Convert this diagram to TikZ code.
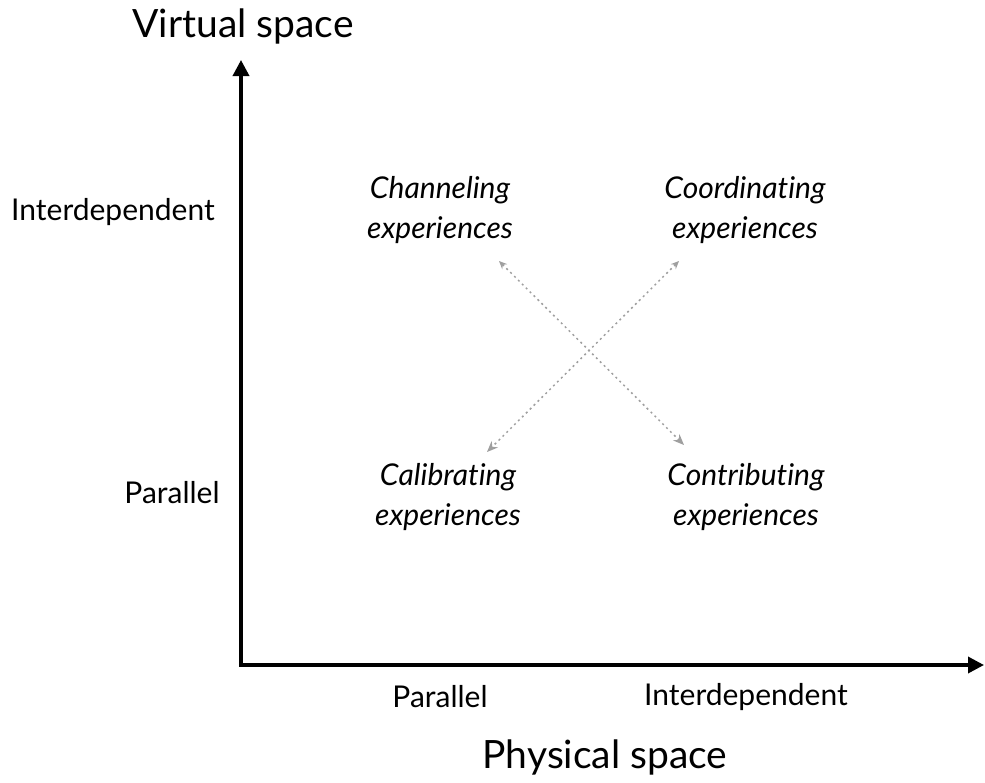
\documentclass[tikz,border=0pt]{standalone}
\usepackage{fontspec}
\setmainfont[Ligatures={NoCommon,NoContextual}]{Lato}
\usetikzlibrary{arrows.meta}
\begin{document}
\begin{tikzpicture}[x=1pt,y=-1pt,
  axis/.style={line width=3.5pt,-{Triangle[length=16pt,width=16pt]}},
  link/.style={gray!75,line width=1.5pt,dash pattern=on 2pt off 3.5pt,{Stealth[length=8pt,width=7pt]}-{Stealth[length=11pt,width=9pt]}},
  title/.style={font=\fontsize{39}{44}\selectfont},
  level/.style={font=\fontsize{30}{36}\selectfont},
  quad/.style={font=\fontsize{30}{40}\selectfont\itshape,align=center}]
\useasboundingbox (0,0) rectangle (985,782);
% axes
\coordinate (o) at (241,665);
\coordinate (ytop) at (241,60);
\coordinate (xend) at (984,665);
\draw[axis] (o) -- (ytop);
\draw[axis] ([xshift=-1.75pt]o) -- (xend);
% axis titles
\node[title] (vs) at (243,26) {Virtual space};
\node[title] (ps) at (605,757) {Physical space};
% levels
\node[level] (yi) at (113,212) {Interdependent};
\node[level] (yp) at (172,493) {Parallel};
\node[level] (xp) at (440,697) {Parallel};
\node[level] (xi) at (746,697) {Interdependent};
% quadrants
\node[quad] (ch) at (440,210) {Channeling\\experiences};
\node[quad] (co) at (745,210) {Coordinating\\experiences};
\node[quad] (ca) at (448,497) {Calibrating\\experiences};
\node[quad] (ct) at (746,497) {Contributing\\experiences};
% diagonal links
\coordinate (a1) at (499,261);
\coordinate (a2) at (684,445);
\coordinate (b1) at (679,261);
\coordinate (b2) at (487,452);
\draw[link] (a1) -- (a2);
\draw[link] (b1) -- (b2);
\end{tikzpicture}
\end{document}
